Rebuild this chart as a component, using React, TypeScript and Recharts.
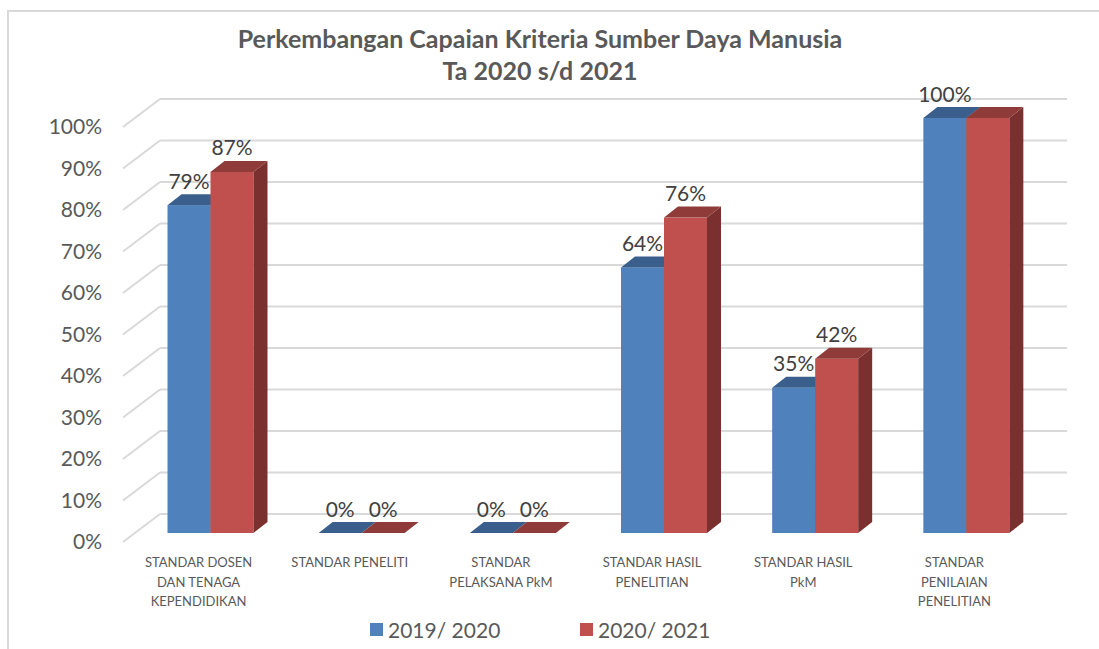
import React from 'react';
import { BarChart, Bar, XAxis, YAxis, CartesianGrid, LabelList } from 'recharts';

const categories = [
  'STANDAR DOSEN\nDAN TENAGA\nKEPENDIDIKAN',
  'STANDAR PENELITI',
  'STANDAR\nPELAKSANA PkM',
  'STANDAR HASIL\nPENELITIAN',
  'STANDAR HASIL\nPkM',
  'STANDAR\nPENILAIAN\nPENELITIAN',
];
const values2019 = [79, 0, 0, 64, 35, 100];
const values2020 = [87, 0, 0, 76, 42, 100];
const yTicks = [0, 10, 20, 30, 40, 50, 60, 70, 80, 90, 100];
const seriesNames = ['2019/ 2020', '2020/ 2021'];

const data = categories.map((name, i) => ({ name, a: values2019[i], b: values2020[i] }));

const FONT = 'Lato, "Open Sans", sans-serif';
const TEXT = '#595959';
// 3D offsets: bar front plane vs axis plane, bar depth, back wall depth
const OFF_X = 12;
const OFF_Y = -9;
const DEPTH_X = 14;
const DEPTH_Y = -11;
const WALL_X = 37;
const WALL_Y = -28;

const blue = { front: '#4F81BD', top: '#3A5F8C', side: '#34557E' };
const red = { front: '#C0504D', top: '#8F3B39', side: '#7A302F' };

function makeBar3D(c: { front: string; top: string; side: string }) {
  return (props: any) => {
    const { x, y, width, height } = props;
    const fx = x + OFF_X;
    const fy = y + OFF_Y;
    const w = width;
    const h = Math.max(height, 0);
    return (
      <g>
        {h > 0 && <rect x={fx} y={fy} width={w} height={h} fill={c.front} />}
        {h > 0 && (
          <polygon
            points={`${fx + w},${fy} ${fx + w + DEPTH_X},${fy + DEPTH_Y} ${fx + w + DEPTH_X},${fy + h + DEPTH_Y} ${fx + w},${fy + h}`}
            fill={c.side}
          />
        )}
        <polygon
          points={`${fx},${fy} ${fx + DEPTH_X},${fy + DEPTH_Y} ${fx + w + DEPTH_X},${fy + DEPTH_Y} ${fx + w},${fy}`}
          fill={c.top}
        />
      </g>
    );
  };
}

const makeLabel = (skip: number[]) => (props: any) => {
  const { x, y, width, value, index } = props;
  if (skip.includes(index)) return null;
  return (
    <text
      x={x + width / 2 + OFF_X}
      y={y + OFF_Y - 25}
      textAnchor="middle"
      dominantBaseline="central"
      fill="#404040"
      fontSize={21}
      fontFamily={FONT}
    >
      {`${value}%`}
    </text>
  );
};

const gridLine = (p: any) => (
  <g key={`grid-${p.index}`}>
    <line x1={p.x1} y1={p.y1} x2={p.x1 + WALL_X} y2={p.y1 + WALL_Y} stroke="#d9d9d9" strokeWidth={2} />
    <line x1={p.x1 + WALL_X} y1={p.y1 + WALL_Y} x2={p.x2 + WALL_X} y2={p.y2 + WALL_Y} stroke="#d9d9d9" strokeWidth={2} />
  </g>
);

const CategoryTick = (props: any) => {
  const { x, y, payload } = props;
  const lines = String(payload.value).split('\n');
  return (
    <text x={x} y={y + 25} textAnchor="middle" fill={TEXT} fontSize={13} fontFamily={FONT}>
      {lines.map((l, i) => (
        <tspan key={i} x={x} dy={i === 0 ? 0 : 19.5}>
          {l}
        </tspan>
      ))}
    </text>
  );
};

export default function App() {
  return (
    <div style={{ position: 'absolute', left: 0, top: 0, width: 1099, height: 649, background: '#fff', overflow: 'hidden' }}>
      <div
        style={{
          position: 'absolute',
          left: 7,
          top: 10,
          width: 1200,
          height: 700,
          borderLeft: '2px solid #d9d9d9',
          borderTop: '2px solid #d9d9d9',
        }}
      />
      <div
        style={{
          position: 'absolute',
          left: 0,
          top: 22,
          width: 1080,
          textAlign: 'center',
          fontFamily: FONT,
          fontWeight: 700,
          fontSize: 25,
          lineHeight: '32px',
          color: TEXT,
        }}
      >
        Perkembangan Capaian Kriteria Sumber Daya Manusia
        <br />
        Ta 2020 s/d 2021
      </div>
      <div style={{ position: 'absolute', left: 0, top: 0 }}>
        <BarChart
          width={1099}
          height={649}
          data={data}
          margin={{ top: 127, right: 69, bottom: 47, left: 63 }}
          barCategoryGap={32.5}
          barGap={0}
        >
          <CartesianGrid vertical={false} horizontal={gridLine} />
          <XAxis dataKey="name" axisLine={false} tickLine={false} tickSize={0} tickMargin={0} height={60} tick={<CategoryTick />} interval={0} />
          <YAxis
            width={60}
            domain={[0, 100]}
            ticks={yTicks}
            axisLine={false}
            tickLine={false}
            tickSize={0}
            tickMargin={21}
            tickFormatter={(v) => `${v}%`}
            tick={{ fill: TEXT, fontSize: 21, fontFamily: FONT }}
          />
          <Bar dataKey="a" name={seriesNames[0]} shape={makeBar3D(blue)} isAnimationActive={false}>
            <LabelList dataKey="a" content={makeLabel([])} />
          </Bar>
          <Bar dataKey="b" name={seriesNames[1]} shape={makeBar3D(red)} isAnimationActive={false}>
            <LabelList dataKey="b" content={makeLabel([5])} />
          </Bar>
        </BarChart>
      </div>
      {seriesNames.map((n, i) => (
        <div
          key={n}
          style={{
            position: 'absolute',
            left: i === 0 ? 370 : 580,
            top: 614,
            height: 30,
            display: 'flex',
            alignItems: 'center',
            fontFamily: FONT,
            fontSize: 21,
            color: TEXT,
          }}
        >
          <span style={{ display: 'inline-block', width: 13, height: 13, background: i === 0 ? blue.front : red.front, marginRight: 5 }} />
          {n}
        </div>
      ))}
    </div>
  );
}
